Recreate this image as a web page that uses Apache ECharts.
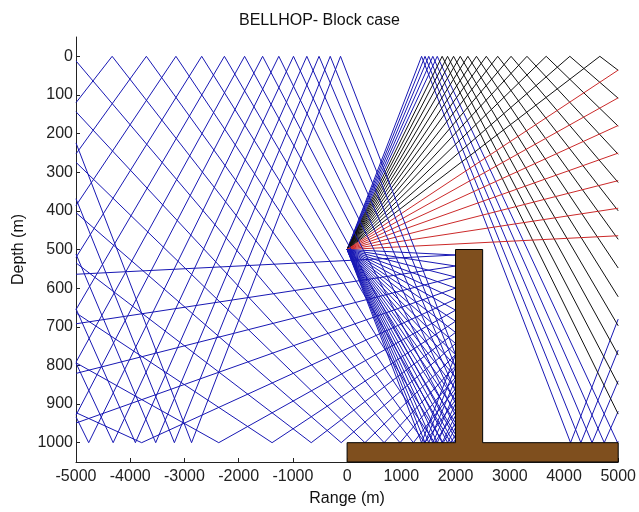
<!DOCTYPE html>
<html>
<head>
<meta charset="utf-8">
<script src="https://cdn.jsdelivr.net/npm/echarts@6/dist/echarts.min.js"></script>
<style>
html,body{margin:0;padding:0;background:#fff;}
#chart{width:639px;height:512px;}
</style>
</head>
<body>
<div id="chart"></div>
<script>
// ---- data ----
// launch angles of the ray fan (degrees, positive = downward), 50 rays from -20 to 20
const launchAngles = [
  -20.000, -19.184, -18.367, -17.551, -16.735, -15.918, -15.102, -14.286, -13.469, -12.653,
  -11.837, -11.020, -10.204, -9.388, -8.571, -7.755, -6.939, -6.122, -5.306, -4.490,
  -3.673, -2.857, -2.041, -1.224, -0.408, 0.408, 1.224, 2.041, 2.857, 3.673,
  4.490, 5.306, 6.122, 6.939, 7.755, 8.571, 9.388, 10.204, 11.020, 11.837,
  12.653, 13.469, 14.286, 15.102, 15.918, 16.735, 17.551, 18.367, 19.184, 20.000
];
const sourceRange = [0];          // m
const sourceDepth = [500];        // m
const surfaceDepth = [0];         // m
const bottomDepth = [1000];       // m
const rangeLimits = [-5000, 5000];// m, rays stop here
const blockRange = [2000, 2500];  // m, block left/right faces
const blockTopDepth = [500];      // m
// bathymetry/block outline (range, depth)
const blockRanges = [0, 2000, 2000, 2500, 2500, 5000, 5000, 0];
const blockDepths = [1000, 1000, 500, 500, 1000, 1000, 1050, 1050];
const xTicks = [-5000, -4000, -3000, -2000, -1000, 0, 1000, 2000, 3000, 4000, 5000];
const yTicks = [0, 100, 200, 300, 400, 500, 600, 700, 800, 900, 1000];

// ---- specular-reflection ray tracing in the isovelocity waveguide ----
function traceRay(angleDeg) {
  let x = sourceRange[0], z = sourceDepth[0];
  let dx = Math.cos(angleDeg * Math.PI / 180), dz = Math.sin(angleDeg * Math.PI / 180);
  const pts = [[x, z]];
  let nTop = 0, nBot = 0;
  const zs = surfaceDepth[0], zb = bottomDepth[0];
  const bl = blockRange[0], br = blockRange[1], bt = blockTopDepth[0];
  for (let i = 0; i < 1000; i++) {
    let best = Infinity, kind = null;
    const cand = (t, k) => { if (t > 1e-7 && t < best) { best = t; kind = k; } };
    if (dz < 0) cand((zs - z) / dz, 'top');
    if (dz > 0) cand((zb - z) / dz, 'bot');
    if (dx > 0) cand((rangeLimits[1] - x) / dx, 'end');
    if (dx < 0) cand((rangeLimits[0] - x) / dx, 'end');
    if (dx > 0 && x < bl - 1e-6) {
      const t = (bl - x) / dx, zz = z + dz * t;
      if (zz >= bt && zz <= zb) cand(t, 'side');
    }
    if (dx < 0 && x > br + 1e-6) {
      const t = (br - x) / dx, zz = z + dz * t;
      if (zz >= bt && zz <= zb) cand(t, 'side');
    }
    if (dz > 0 && z < bt - 1e-6) {
      const t = (bt - z) / dz, xx = x + dx * t;
      if (xx >= bl && xx <= br) cand(t, 'bot');
    }
    x += dx * best; z += dz * best;
    pts.push([x, z]);
    if (kind === 'end') break;
    if (kind === 'top') { dz = -dz; nTop++; }
    else if (kind === 'bot') { dz = -dz; nBot++; }
    else { dx = -dx; nBot++; }
  }
  let color;
  if (nBot > 0) color = '#1818b4';
  else if (nTop > 0) color = '#111111';
  else color = '#cc2a2a';
  return { pts, color };
}

const series = launchAngles.map(a => {
  const r = traceRay(a);
  return {
    type: 'line',
    data: r.pts,
    showSymbol: false,
    symbol: 'none',
    silent: true,
    animation: false,
    lineStyle: { color: r.color, width: 1 },
    z: 2
  };
});

series.push({
  type: 'custom',
  silent: true,
  animation: false,
  z: 5,
  data: [0],
  renderItem: function (params, api) {
    const points = blockRanges.map((r, i) => api.coord([r, blockDepths[i]]));
    return {
      type: 'polygon',
      shape: { points },
      style: { fill: '#7f4f1e', stroke: '#000', lineWidth: 1 }
    };
  }
});

const chart = echarts.init(document.getElementById('chart'), null, { renderer: 'canvas' });
const font = 'Liberation Sans, Arial, sans-serif';
const plain = v => String(v);
chart.setOption({
  backgroundColor: '#ffffff',
  animation: false,
  title: {
    text: 'BELLHOP- Block case',
    left: 'center',
    top: 8,
    textStyle: { fontFamily: font, fontSize: 16, fontWeight: 'normal', color: '#111' }
  },
  grid: { left: 76, right: 17, top: 37, bottom: 46, containLabel: false },
  xAxis: {
    type: 'value',
    min: rangeLimits[0], max: rangeLimits[1], interval: 1000,
    name: 'Range (m)', nameLocation: 'middle', nameGap: 29,
    nameTextStyle: { fontFamily: font, fontSize: 16, color: '#111' },
    axisLine: { show: true, onZero: false, lineStyle: { color: '#222', width: 1 } },
    axisTick: { show: true, inside: true, length: 4, lineStyle: { color: '#222' } },
    axisLabel: { fontFamily: font, fontSize: 16, color: '#222', margin: 7,
      customValues: xTicks, formatter: plain },
    splitLine: { show: false }
  },
  yAxis: {
    type: 'value',
    inverse: true,
    min: -50, max: 1050,
    name: 'Depth (m)', nameLocation: 'middle', nameGap: 48, nameRotate: 90,
    nameTextStyle: { fontFamily: font, fontSize: 16, color: '#111' },
    axisLine: { show: true, onZero: false, lineStyle: { color: '#222', width: 1 } },
    axisTick: { show: true, inside: true, length: 4, lineStyle: { color: '#222' }, customValues: yTicks },
    axisLabel: { fontFamily: font, fontSize: 16, color: '#222', margin: 3,
      customValues: yTicks, formatter: plain },
    splitLine: { show: false }
  },
  series
});
</script>
</body>
</html>
